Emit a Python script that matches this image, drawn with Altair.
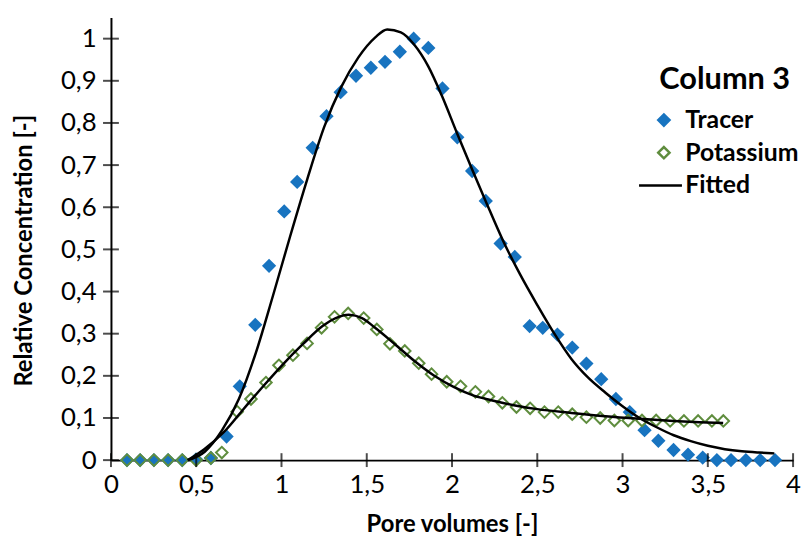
import altair as alt
import pandas as pd

# ---------------- data ----------------
tracer_x = [0.094, 0.171, 0.252, 0.335, 0.418, 0.499, 0.586, 0.678, 0.755, 0.846, 0.927, 1.016,
            1.092, 1.183, 1.264, 1.347, 1.437, 1.524, 1.607, 1.694, 1.775, 1.861, 1.944, 2.031,
            2.118, 2.198, 2.285, 2.368, 2.455, 2.532, 2.618, 2.705, 2.788, 2.875, 2.961, 3.042,
            3.129, 3.210, 3.299, 3.384, 3.470, 3.553, 3.636, 3.723, 3.807, 3.894]
tracer_y = [0, 0, 0, 0, 0, 0.002, 0.005, 0.056, 0.175, 0.321, 0.461, 0.590,
            0.660, 0.741, 0.816, 0.873, 0.912, 0.931, 0.945, 0.969, 1.000, 0.978, 0.882, 0.766,
            0.686, 0.615, 0.514, 0.482, 0.318, 0.314, 0.298, 0.267, 0.229, 0.192, 0.145, 0.114,
            0.071, 0.046, 0.024, 0.013, 0.006, 0, 0, 0, 0, 0]

potassium_x = [0.094, 0.171, 0.252, 0.335, 0.418, 0.499, 0.586, 0.650, 0.740, 0.821, 0.909, 0.985,
               1.067, 1.150, 1.235, 1.311, 1.391, 1.482, 1.559, 1.636, 1.723, 1.805, 1.880, 1.969,
               2.050, 2.137, 2.214, 2.295, 2.378, 2.458, 2.542, 2.623, 2.705, 2.788, 2.869, 2.952,
               3.033, 3.114, 3.197, 3.279, 3.360, 3.443, 3.524, 3.591]
potassium_y = [0, 0, 0, 0, 0, 0, 0.005, 0.018, 0.115, 0.145, 0.184, 0.225,
               0.249, 0.277, 0.314, 0.340, 0.348, 0.337, 0.310, 0.276, 0.259, 0.230, 0.204, 0.186,
               0.175, 0.162, 0.151, 0.136, 0.126, 0.123, 0.114, 0.114, 0.109, 0.102, 0.100, 0.094,
               0.094, 0.094, 0.094, 0.093, 0.093, 0.093, 0.093, 0.093]

fit_tracer_x = [0.45, 0.55, 0.65, 0.75, 0.85, 0.95, 1.05, 1.15, 1.25, 1.35, 1.45, 1.55, 1.62,
                1.70, 1.78, 1.86, 1.94, 2.03, 2.12, 2.20, 2.30, 2.40, 2.50, 2.60, 2.70, 2.80,
                2.90, 3.00, 3.10, 3.20, 3.30, 3.40, 3.50, 3.60, 3.70, 3.80, 3.89]
fit_tracer_y = [0, 0.020, 0.070, 0.145, 0.255, 0.390, 0.530, 0.665, 0.790, 0.885, 0.955, 1.003, 1.022,
                1.015, 0.985, 0.935, 0.865, 0.775, 0.688, 0.612, 0.520, 0.440, 0.368, 0.300, 0.240, 0.195,
                0.160, 0.128, 0.100, 0.078, 0.059, 0.045, 0.034, 0.026, 0.021, 0.018, 0.016]

fit_potassium_x = [0.45, 0.547, 0.663, 0.779, 0.894, 1.010, 1.125, 1.241, 1.318, 1.395, 1.472, 1.549,
                   1.665, 1.780, 1.896, 2.012, 2.127, 2.243, 2.378, 2.50, 2.70, 2.90, 3.10, 3.30,
                   3.45, 3.59]
fit_potassium_y = [0, 0.026, 0.067, 0.122, 0.176, 0.228, 0.275, 0.318, 0.337, 0.345, 0.337, 0.314,
                   0.275, 0.235, 0.200, 0.173, 0.153, 0.141, 0.129, 0.121, 0.112, 0.104, 0.098, 0.093,
                   0.090, 0.088]

x_ticks = [0, 0.5, 1, 1.5, 2, 2.5, 3, 3.5, 4]
y_ticks = [0, 0.1, 0.2, 0.3, 0.4, 0.5, 0.6, 0.7, 0.8, 0.9, 1]

series = ["Tracer", "Potassium", "Fitted"]
stroke_colors = ["#1874c0", "#5f8d3e", "#000000"]
fill_colors = ["#1874c0", "transparent", "#000000"]
shapes = ["diamond", "diamond", "M-4.4,0H3.2"]

# ---------------- frames ----------------
pts = pd.DataFrame({
    "x": tracer_x + potassium_x,
    "y": tracer_y + potassium_y,
    "series": ["Tracer"] * len(tracer_x) + ["Potassium"] * len(potassium_x),
})
fit = pd.DataFrame({
    "x": fit_tracer_x + fit_potassium_x,
    "y": fit_tracer_y + fit_potassium_y,
    "series": ["Fitted"] * (len(fit_tracer_x) + len(fit_potassium_x)),
    "curve": ["tracer"] * len(fit_tracer_x) + ["potassium"] * len(fit_potassium_x),
})
xt_df = pd.DataFrame({"x": x_ticks})
yt_df = pd.DataFrame({"y": y_ticks})

FONT = "Lato"
LBL = "replace(format(datum.value, '~g'), '.', ',')"

xscale = alt.Scale(domain=[0, 4], nice=False, zero=False)
yscale = alt.Scale(domain=[0, 1.05], nice=False)

xaxis = alt.Axis(values=x_ticks, ticks=False, grid=False, domainColor="black", domainWidth=2,
                 labelExpr=LBL, labelFont=FONT, labelFontSize=26, labelColor="black",
                 labelPadding=12, labelFlush=False, labelOverlap=False,
                 title="Pore volumes [-]", titleFont=FONT, titleFontSize=24,
                 titleFontWeight="bold", titleColor="black", titleY=65, titleBaseline="middle")
yaxis = alt.Axis(values=y_ticks, ticks=False, grid=False, domainColor="black", domainWidth=2,
                 labelExpr=LBL, labelFont=FONT, labelFontSize=26, labelColor="black",
                 labelPadding=15, labelFlush=False, labelOverlap=False,
                 title="Relative Concentration [-]", titleFont=FONT, titleFontSize=24,
                 titleFontWeight="bold", titleColor="black", titleX=-87, titleY=235,
                 titleAngle=270, titleAlign="center", titleBaseline="middle")

legend = alt.Legend(title="Column 3", orient="none", legendX=546, legendY=48,
                    titleFont=FONT, titleFontSize=31, titleFontWeight="bold", titleColor="black",
                    titleAnchor="middle", titlePadding=12,
                    labelFont=FONT, labelFontSize=25, labelFontWeight="bold", labelColor="black",
                    labelOffset=9, symbolSize=130, symbolStrokeWidth=2.5, rowPadding=7)

stroke_enc = alt.Stroke("series:N", scale=alt.Scale(domain=series, range=stroke_colors), legend=legend)
fill_enc = alt.Fill("series:N", scale=alt.Scale(domain=series, range=fill_colors), legend=legend)
shape_enc = alt.Shape("series:N", scale=alt.Scale(domain=series, range=shapes), legend=legend)

points = alt.Chart(pts).mark_point(size=135, strokeWidth=2, opacity=1).encode(
    x=alt.X("x:Q", scale=xscale, axis=xaxis),
    y=alt.Y("y:Q", scale=yscale, axis=yaxis),
    stroke=stroke_enc,
    fill=fill_enc,
    shape=shape_enc,
)

lines = alt.Chart(fit).mark_line(strokeWidth=2.5, interpolate="monotone").encode(
    x="x:Q",
    y="y:Q",
    stroke=stroke_enc,
    detail="curve:N",
)

xticks = alt.Chart(xt_df).mark_tick(orient="vertical", size=14, thickness=2, color="black").encode(
    x="x:Q", y=alt.datum(0)
)
yticks = alt.Chart(yt_df).mark_tick(orient="horizontal", size=16, thickness=2, color="black").encode(
    y="y:Q", x=alt.datum(0)
)

chart = alt.layer(points, lines, xticks, yticks).properties(
    width=689, height=447,
    autosize=alt.AutoSizeParams(type="none"),
    padding={"left": 104, "top": 7, "right": 8, "bottom": 78},
    background="white",
).configure_view(stroke=None)

chart.save("out.html", embed_options={"renderer": "svg", "actions": False})
